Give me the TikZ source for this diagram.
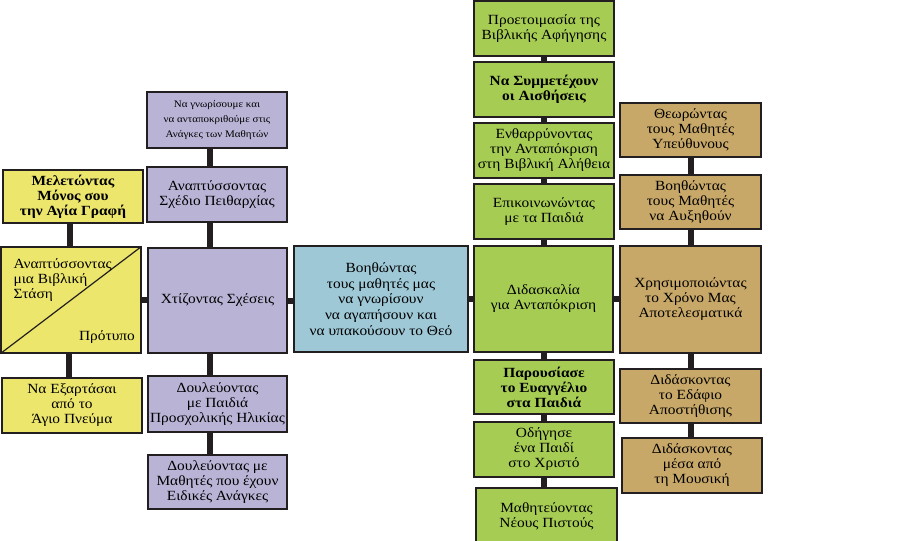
\documentclass[tikz,border=0pt]{standalone}
\usepackage{fontspec}
\setmainfont{Liberation Serif}[FakeStretch=1.1]
\definecolor{cyel}{RGB}{236,230,108}
\definecolor{cpur}{RGB}{185,180,214}
\definecolor{cblu}{RGB}{158,200,214}
\definecolor{cgrn}{RGB}{166,204,84}
\definecolor{ctan}{RGB}{200,168,104}
\definecolor{cline}{RGB}{35,31,32}
\tikzset{
  box/.style={draw=cline, line width=1.2pt, align=center, inner sep=1pt, text=black,
    font=\fontsize{14}{15}\selectfont},
  bbox/.style={box, font=\fontsize{14}{15}\selectfont\bfseries},
  sbox/.style={box, font=\fontsize{10}{15}\selectfont},
  small/.style={minimum width=140pt, minimum height=55pt},
  big/.style={minimum width=140pt, minimum height=106pt},
  conn/.style={draw=cline, line width=6pt},
}
\begin{document}
\begin{tikzpicture}[x=1pt,y=-1pt]
\useasboundingbox (0,0) rectangle (906,541);
% yellow column
\node[bbox,fill=cyel,small,minimum height=53pt] (yA) at (73,196.5) {Μελετώντας\\Μόνος σου\\την Αγία Γραφή};
\node[box,fill=cyel,big] (yB) at (71,300) {};
\draw[cline,line width=1.2pt] (yB.south west) -- (yB.north east);
\node[box,draw=none,fill=none,anchor=north west,align=left] (yBt) at (12,257) {Αναπτύσσοντας\\μια Βιβλική\\Στάση};
\node[box,draw=none,fill=none] (yBp) at (107,337) {Πρότυπο};
\node[box,fill=cyel,small] (yC) at (72,405.5) {Να Εξαρτάσαι\\από το\\Άγιο Πνεύμα};
% purple column
\node[sbox,fill=cpur,small,minimum height=56pt] (pA) at (217,120) {Να γνωρίσουμε και\\να ανταποκριθούμε στις\\Ανάγκες των Μαθητών};
\node[box,fill=cpur,small] (pB) at (217,194.5) {Αναπτύσσοντας\\Σχέδιο Πειθαρχίας};
\node[box,fill=cpur,minimum width=139pt,minimum height=105pt] (pC) at (217.5,300.5) {Χτίζοντας Σχέσεις};
\node[box,fill=cpur,minimum width=139pt,minimum height=56pt] (pD) at (217.5,404) {Δουλεύοντας\\με Παιδιά\\Προσχολικής Ηλικίας};
\node[box,fill=cpur,minimum width=139pt,minimum height=54pt] (pE) at (217.5,482) {Δουλεύοντας με\\Μαθητές που έχουν\\Ειδικές Ανάγκες};
% blue
\node[box,fill=cblu,minimum width=174pt,minimum height=106pt,font=\fontsize{14}{15.7}\selectfont] (bl) at (381,299) {Βοηθώντας\\τους μαθητές μας\\να γνωρίσουν\\να αγαπήσουν και\\να υπακούσουν το Θεό};
% green column
\node[box,fill=cgrn,small] (gA) at (544,28.5) {Προετοιμασία της\\Βιβλικής Αφήγησης};
\node[bbox,fill=cgrn,small] (gB) at (544,89.5) {Να Συμμετέχουν\\οι Αισθήσεις};
\node[box,fill=cgrn,small] (gC) at (544,150.5) {Ενθαρρύνοντας\\την Ανταπόκριση\\στη Βιβλική Αλήθεια};
\node[box,fill=cgrn,small] (gD) at (544,211.5) {Επικοινωνώντας\\με τα Παιδιά};
\node[box,fill=cgrn,minimum width=139pt,minimum height=106pt] (gE) at (543.5,299) {Διδασκαλία\\για Ανταπόκριση};
\node[bbox,fill=cgrn,small,minimum height=54pt] (gF) at (544,387) {Παρουσίασε\\το Ευαγγέλιο\\στα Παιδιά};
\node[box,fill=cgrn,small] (gG) at (544,449.5) {Οδήγησε\\ένα Παιδί\\στο Χριστό};
\node[box,fill=cgrn,minimum width=141pt,minimum height=57pt] (gH) at (546.5,516.5) {Μαθητεύοντας\\Νέους Πιστούς};
% tan column
\node[box,fill=ctan,minimum width=141pt,minimum height=54pt] (tA) at (690.5,130) {Θεωρώντας\\τους Μαθητές\\Υπεύθυνους};
\node[box,fill=ctan,minimum width=141pt,minimum height=54pt] (tB) at (690.5,202) {Βοηθώντας\\τους Μαθητές\\να Αυξηθούν};
\node[box,fill=ctan,minimum width=141pt,minimum height=107pt] (tC) at (690.5,299.5) {Χρησιμοποιώντας\\το Χρόνο Μας\\Αποτελεσματικά};
\node[box,fill=ctan,minimum width=141pt,minimum height=54pt] (tD) at (690.5,396) {Διδάσκοντας\\το Εδάφιο\\Αποστήθισης};
\node[box,fill=ctan,small] (tE) at (692,465.5) {Διδάσκοντας\\μέσα από\\τη Μουσική};
% connectors
\draw[conn] ([xshift=-3pt]yA.south) -- ([xshift=-1pt]yB.north);
\draw[conn] ([xshift=-2pt]yB.south) -- ([xshift=-3pt]yC.north);
\draw[conn] ([xshift=-7pt]pA.south) -- ([xshift=-7pt]pB.north);
\draw[conn] ([xshift=-7pt]pB.south) -- ([xshift=-7.5pt]pC.north);
\draw[conn] ([xshift=-7.5pt]pC.south) -- ([xshift=-7.5pt]pD.north);
\draw[conn] ([xshift=-7.5pt]pD.south) -- ([xshift=-7.5pt]pE.north);
\draw[conn] (gA.south) -- (gB.north);
\draw[conn] (gB.south) -- (gC.north);
\draw[conn] (gC.south) -- (gD.north);
\draw[conn] (gD.south) -- ([xshift=0.5pt]gE.north);
\draw[conn] ([xshift=0.5pt]gE.south) -- (gF.north);
\draw[conn] (gF.south) -- (gG.north);
\draw[conn] (gG.south) -- ([xshift=-2.5pt]gH.north);
\draw[conn] (tA.south) -- (tB.north);
\draw[conn] (tB.south) -- (tC.north);
\draw[conn] (tC.south) -- (tD.north);
\draw[conn] (tD.south) -- ([xshift=-1.5pt]tE.north);
\draw[conn] (yB.east) -- (yB.east -| pC.west);
\draw[conn] (pC.east) -- (pC.east -| bl.west);
\draw[conn] (bl.east) -- (bl.east -| gE.west);
\draw[conn] (gE.east) -- (gE.east -| tC.west);
\end{tikzpicture}
\end{document}
